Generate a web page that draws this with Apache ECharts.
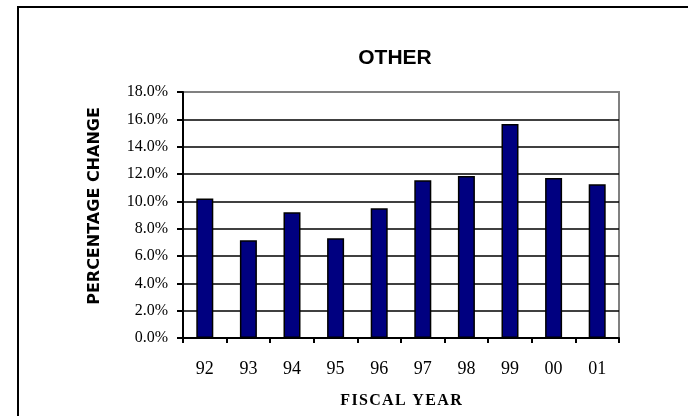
<!DOCTYPE html>
<html>
<head>
<meta charset="utf-8">
<script src="https://cdn.jsdelivr.net/npm/echarts@6/dist/echarts.min.js"></script>
<style>
html,body{margin:0;padding:0;background:#fff;}
#chart{width:688px;height:416px;}
</style>
</head>
<body>
<div id="chart"></div>
<script>
var categories = ['92','93','94','95','96','97','98','99','00','01'];
var values = [10.2, 7.15, 9.2, 7.3, 9.5, 11.55, 11.85, 15.65, 11.7, 11.25];
var titleText = 'OTHER';
var yName = 'PERCENTAGE CHANGE';
var xName = 'FISCAL YEAR';

function spaced(s){ return s.split('').join('\u200A'); }

var chart = echarts.init(document.getElementById('chart'), null, {renderer:'canvas'});
var gridColors = ['#000','#000','#000','#000','#000','#000','#000','#000','#000','#808080'];
chart.setOption({
  animation: false,
  backgroundColor: '#fff',
  title: {
    text: titleText,
    left: 390, top: 43, textAlign: 'center',
    textStyle: {fontFamily: 'Liberation Sans', fontWeight: 'bold', fontSize: 21, color: '#000'}
  },
  graphic: [{
    type: 'rect', shape: {x: 18, y: 7, width: 720, height: 440},
    style: {fill: 'none', stroke: '#000', lineWidth: 2}, silent: true
  }],
  grid: {left: 183, right: 69, top: 92, bottom: 78, show: true, borderColor: '#808080', borderWidth: 2, backgroundColor: 'transparent'},
  xAxis: {
    type: 'category', data: categories, boundaryGap: true,
    name: spaced(xName), nameLocation: 'middle', nameGap: 55,
    nameTextStyle: {fontFamily: 'Liberation Serif', fontWeight: 'bold', fontSize: 16, color: '#000'},
    axisLine: {lineStyle: {color: '#000', width: 2}},
    axisTick: {show: true, length: 5, lineStyle: {color: '#000', width: 2}},
    axisLabel: {fontFamily: 'Liberation Serif', fontSize: 18, color: '#000', margin: 22}
  },
  yAxis: {
    type: 'value', min: 0, max: 18, interval: 2,
    name: yName, nameLocation: 'middle', nameGap: 80, nameRotate: 90,
    nameTextStyle: {fontFamily: 'DejaVu Sans', fontWeight: 'bold', fontSize: 16, color: '#000', padding: [0,0,0,18]},
    axisLine: {show: true, lineStyle: {color: '#000', width: 2}},
    axisTick: {show: true, length: 6, lineStyle: {color: '#000', width: 2}},
    axisLabel: {fontFamily: 'Liberation Serif', fontSize: 16, color: '#000', margin: 15,
      formatter: function(v){ return v.toFixed(1) + '%'; }},
    splitLine: {show: true, lineStyle: {color: gridColors, width: 1.5}}
  },
  series: [{
    type: 'bar', data: values, barWidth: 17,
    itemStyle: {color: '#000080', borderColor: '#000', borderWidth: 1.5}
  }]
});
</script>
</body>
</html>
